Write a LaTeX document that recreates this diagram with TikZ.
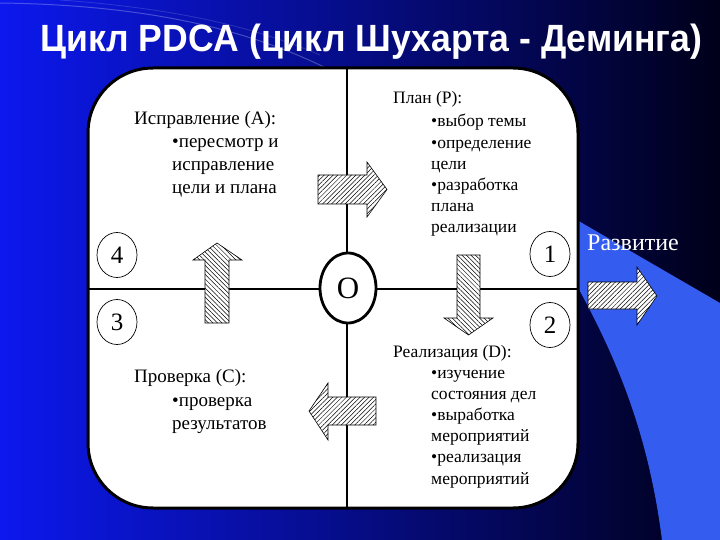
\documentclass[tikz,border=0pt]{standalone}
\usepackage{fontspec}
\setmainfont{Liberation Serif}
\newfontfamily\titlefont{Liberation Sans}
\usetikzlibrary{patterns.meta,shapes.geometric}
\definecolor{bgblue}{RGB}{12,24,238}
\definecolor{bgmid}{RGB}{0,0,150}
\definecolor{bgdark}{RGB}{0,0,25}
\definecolor{lightblue}{RGB}{52,92,238}
\tikzset{
  txtA/.style={anchor=base west, inner sep=0, align=left, font=\fontsize{19}{22.7}\selectfont},
  txtP/.style={anchor=base west, inner sep=0, align=left, font=\fontsize{17.5}{21.2}\selectfont},
  numc/.style={draw, line width=0.7pt, ellipse, minimum width=40pt, minimum height=45pt, inner sep=0, fill=white, font=\fontsize{25}{25}\selectfont},
  hatchR/.style={draw, line width=0.6pt, fill=white, postaction={pattern={Lines[angle=45,distance=3.2pt,line width=0.5pt]}}},
  hatchU/.style={draw, line width=0.6pt, fill=white, postaction={pattern={Lines[angle=-45,distance=3.2pt,line width=0.5pt]}}},
  divider/.style={line width=2.6pt},
}
\begin{document}
\begin{tikzpicture}[x=1pt,y=-1pt]
\useasboundingbox (0,0) rectangle (720,540);
% background
\shade[left color=bgblue, middle color=bgmid, right color=bgdark] (0,0) rectangle (720,540);
\draw[white, opacity=0.25, line width=1pt] (0,3) .. controls (150,5) and (250,30) .. (330,70);
\draw[white, opacity=0.15, line width=0.8pt] (60,0) .. controls (170,8) and (250,25) .. (320,55);
% light blue swoosh
\fill[lightblue] (570,216) -- (720,303) -- (720,540) -- (662,540) .. controls (648,430) and (615,355) .. (575,282) -- cycle;
% main box
\draw[line width=3pt, fill=white, rounded corners=65pt] (88,68) rectangle (578,508);
% dividers
\coordinate (vt) at (347,68);
\coordinate (vb) at (347,508);
\coordinate (hl) at (88,289);
\coordinate (hr) at (578,289);
\draw[divider] (vt) -- (vb);
\draw[divider] (hl) -- (hr);
% center
\node[draw, ellipse, line width=2.8pt, fill=white, minimum width=56pt, minimum height=70pt, inner sep=0, font=\fontsize{31}{31}\selectfont] (ctr) at (348,288) {O};
% numbers
\node[numc] (n4) at (117,255) {4};
\node[numc] (n3) at (117,322) {3};
\node[numc] (n1) at (550,254) {1};
\node[numc] (n2) at (550,325) {2};
% arrows
\draw[hatchR] (318,175) -- (367,175) -- (367,162) -- (387,189.5) -- (367,217) -- (367,204) -- (318,204) -- cycle;
\draw[hatchU] (457,255) -- (480,255) -- (480,318) -- (493,318) -- (468.5,335) -- (444,318) -- (457,318) -- cycle;
\draw[hatchR] (376,397) -- (328,397) -- (328,383) -- (309,411) -- (328,440) -- (328,425) -- (376,425) -- cycle;
\draw[hatchU] (205,323) -- (205,260) -- (193,260) -- (217,243) -- (242,260) -- (229,260) -- (229,323) -- cycle;
\draw[hatchR] (588,282) -- (637,282) -- (637,267) -- (657,296) -- (637,325) -- (637,309) -- (588,309) -- cycle;
% texts (multi-line nodes: base = baseline of last line)
\node[txtA] (ah) at (134,125) {Исправление (А):};
\node[txtA] (ab) at (172,193.4) {•пересмотр и\\исправление\\цели и плана};
\node[txtA] (ch) at (134,382) {Проверка (С):};
\node[txtA] (cb) at (172,429) {•проверка\\результатов};
\node[txtP] (ph) at (393,104) {План (Р):};
\node[txtP] (pb) at (431,233) {•выбор темы\\•определение\\цели\\•разработка\\плана\\реализации};
\node[txtP] (dh) at (393,357) {Реализация (D):};
\node[txtP] (db) at (431,484) {•изучение\\состояния дел\\•выработка\\мероприятий\\•реализация\\мероприятий};
\node[anchor=base west, inner sep=0, text=white, font=\fontsize{24}{24}\selectfont] (dev) at (587,251) {Развитие};
% title
\node[anchor=base west, inner sep=0, text=white] (title) at (40,52) {\resizebox{662pt}{27.5pt}{\titlefont\bfseries Цикл PDCA (цикл Шухарта - Деминга)}};
\end{tikzpicture}
\end{document}
